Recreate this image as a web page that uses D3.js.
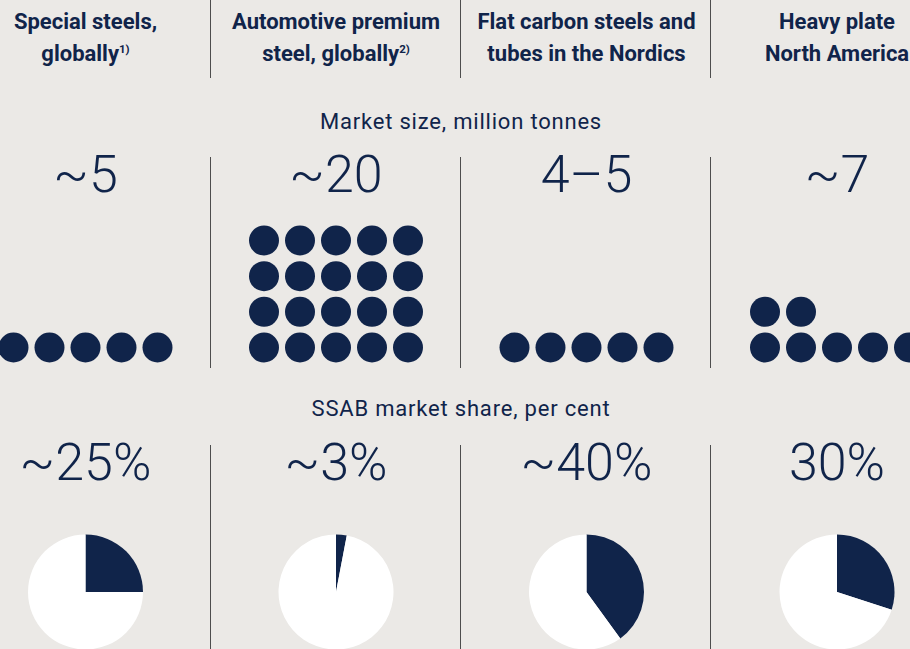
<!DOCTYPE html>
<html>
<head>
<meta charset="utf-8">
<script src="https://cdn.jsdelivr.net/npm/d3@7"></script>
<style>
  html, body { margin: 0; padding: 0; background: #ebe9e6; }
  svg { display: block; font-family: Roboto, "Noto Sans", sans-serif; }
</style>
</head>
<body>
<div id="chart"></div>
<script>
"use strict";

// Data
var headerLine1 = ["Special steels,", "Automotive premium", "Flat carbon steels and", "Heavy plate"];
var headerLine2 = ["globally", "steel, globally", "tubes in the Nordics", "North America"];
var footnotes = ["1)", "2)", "", ""];
var marketSizeLabels = ["~5", "~20", "4\u20135", "~7"];
var marketSizeDots = [5, 20, 5, 7];
var shareLabels = ["~25%", "~3%", "~40%", "30%"];
var shareValues = [25, 3, 40, 30];

var width = 910, height = 649;
var navy = "#10244a";

var svg = d3.select("#chart")
            .append("svg")
            .attr("width", width)
            .attr("height", height);

svg.append("rect")
   .attr("width", width)
   .attr("height", height)
   .attr("fill", "#ebe9e6");

// Scales
var colScale = d3.scaleLinear()
                 .domain([0, 3])
                 .range([85.5, 837]);

var dotX = d3.scaleLinear()
             .domain([0, 4])
             .range([-72, 72]);

var dotY = d3.scaleLinear()
             .domain([0, 3])
             .range([347.5, 240.5]);

var idx = d3.range(headerLine1.length);

// Column separators
var sepX = [211, 461, 711];
var sections = [[0, 78], [157, 368], [445, 649]];
sections.forEach(function (s) {
  svg.selectAll(null)
     .data(sepX)
     .enter()
     .append("line")
     .attr("x1", function (d) { return d - 0.5; })
     .attr("x2", function (d) { return d - 0.5; })
     .attr("y1", s[0])
     .attr("y2", s[1])
     .attr("stroke", "#4d4d4d")
     .attr("stroke-width", 1);
});

// Headers
var headers = svg.selectAll("g.header")
                 .data(idx)
                 .enter()
                 .append("g")
                 .attr("class", "header")
                 .attr("transform", function (i) { return "translate(" + colScale(i) + ",0)"; });

headers.append("text")
       .attr("y", 29)
       .attr("text-anchor", "middle")
       .attr("font-size", 22)
       .attr("font-weight", 700)
       .attr("fill", navy)
       .text(function (i) { return headerLine1[i]; });

var line2 = headers.append("text")
                   .attr("y", 61)
                   .attr("text-anchor", "middle")
                   .attr("font-size", 22)
                   .attr("font-weight", 700)
                   .attr("fill", navy);
line2.append("tspan")
     .text(function (i) { return headerLine2[i]; });
line2.append("tspan")
     .attr("font-size", 11.5)
     .attr("dy", -8)
     .text(function (i) { return footnotes[i]; });

// Section titles
svg.append("text")
   .attr("x", 461)
   .attr("y", 129)
   .attr("text-anchor", "middle")
   .attr("font-size", 22)
   .attr("letter-spacing", 0.8)
   .attr("fill", navy)
   .text("Market size, million tonnes");

svg.append("text")
   .attr("x", 461)
   .attr("y", 416)
   .attr("text-anchor", "middle")
   .attr("font-size", 22)
   .attr("letter-spacing", 0.8)
   .attr("fill", navy)
   .text("SSAB market share, per cent");

// Big numbers
svg.selectAll("text.size")
   .data(idx)
   .enter()
   .append("text")
   .attr("class", "size")
   .attr("x", function (i) { return colScale(i); })
   .attr("y", 192)
   .attr("text-anchor", "middle")
   .attr("font-size", 52)
   .attr("font-weight", 300)
   .attr("fill", navy)
   .text(function (i) { return marketSizeLabels[i]; });

svg.selectAll("text.share")
   .data(idx)
   .enter()
   .append("text")
   .attr("class", "share")
   .attr("x", function (i) { return colScale(i); })
   .attr("y", 480)
   .attr("text-anchor", "middle")
   .attr("font-size", 52)
   .attr("font-weight", 300)
   .attr("fill", navy)
   .text(function (i) { return shareLabels[i]; });

// Dots, 5 per row, filled from the bottom
var dots = [];
idx.forEach(function (i) {
  d3.range(marketSizeDots[i]).forEach(function (k) {
    dots.push({ col: i, c: k % 5, r: Math.floor(k / 5) });
  });
});

svg.selectAll("circle.dot")
   .data(dots)
   .enter()
   .append("circle")
   .attr("class", "dot")
   .attr("cx", function (d) { return colScale(d.col) + dotX(d.c); })
   .attr("cy", function (d) { return dotY(d.r); })
   .attr("r", 15)
   .attr("fill", navy);

// Pies
var pie = d3.pie().sort(null);
var arc = d3.arc().innerRadius(0).outerRadius(57.5);

var pies = svg.selectAll("g.pie")
              .data(idx)
              .enter()
              .append("g")
              .attr("class", "pie")
              .attr("transform", function (i) { return "translate(" + colScale(i) + ",592)"; });

pies.selectAll("path")
    .data(function (i) { return pie([shareValues[i], 100 - shareValues[i]]); })
    .enter()
    .append("path")
    .attr("d", arc)
    .attr("fill", function (d, j) { return j === 0 ? navy : "#ffffff"; });
</script>
</body>
</html>
